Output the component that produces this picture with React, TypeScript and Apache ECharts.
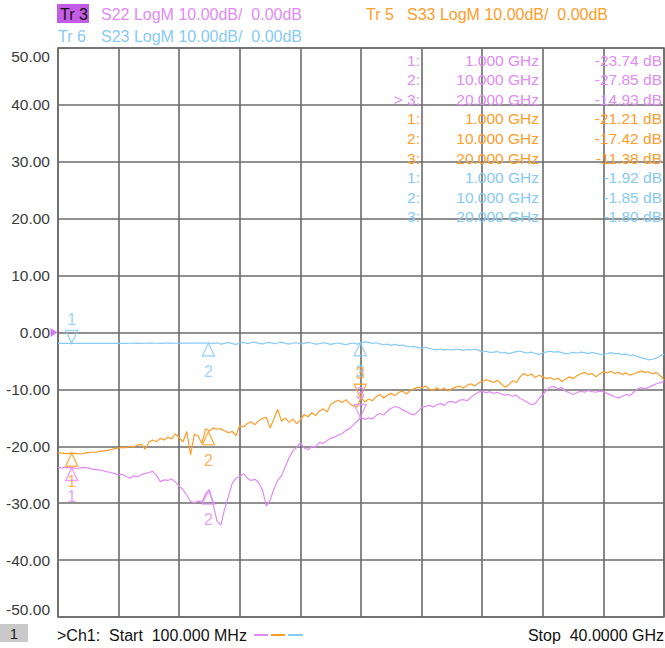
import React, { useEffect, useRef } from "react";
import * as echarts from "echarts";

// Sweep definition (linear, 161 points)
const START_GHZ = 0.1;
const STOP_GHZ = 40;

// Trace values (dB)
const s22 = [
  -23.7, -23.8, -23.7, -23.75, -23.8, -23.9, -23.8, -23.7, -23.8, -24.0,
  -24.1, -24.2, -24.3, -24.5, -24.6, -24.8, -25.0, -24.9, -25.3, -25.6,
  -25.2, -25.4, -25.0, -24.8, -24.6, -24.4, -25.1, -26.2, -25.9, -26.0,
  -25.7, -26.3, -27.0, -27.6, -28.6, -29.7, -29.9, -29.6, -29.8, -28.3,
  -27.6, -30.3, -33.2, -33.8, -31.0, -28.8, -26.5, -25.6, -25.3, -24.8,
  -25.6, -26.0, -25.8, -26.4, -27.7, -30.5, -29.5, -27.5, -26.0, -25.2,
  -23.6, -22.0, -20.8, -20.2, -19.4, -20.3, -20.6, -20.0, -20.1, -19.3,
  -19.5, -19.0, -18.6, -18.4, -18.0, -17.8, -17.2, -16.9, -16.2, -15.6,
  -14.9, -15.3, -15.0, -15.2, -14.6, -14.2, -14.5, -13.8, -13.3, -13.0,
  -13.2, -13.6, -13.9, -14.3, -14.5, -13.9, -13.2, -13.0, -12.8, -13.1,
  -12.7, -12.5, -12.8, -12.2, -12.1, -12.4, -11.9, -11.8, -12.0, -11.4,
  -10.9, -10.5, -10.3, -10.6, -10.4, -10.7, -10.5, -10.8, -11.0, -10.9,
  -11.2, -11.0, -11.6, -11.9, -12.3, -12.7, -12.5, -11.6, -10.9, -10.2,
  -9.6, -9.5, -9.9, -9.7, -10.3, -10.6, -10.9, -10.6, -10.3, -10.5,
  -10.2, -10.4, -10.5, -10.3, -10.4, -10.7, -11.0, -11.3, -11.5, -11.2,
  -10.9, -11.1, -10.5, -9.9, -9.7, -9.9, -9.6, -9.3, -9.0, -8.8,
  -8.6,
];

const s33 = [
  -21.1, -21.2, -21.3, -21.25, -21.2, -21.3, -21.35, -21.2, -21.1, -21.0,
  -21.05, -20.9, -20.8, -20.7, -20.6, -20.4, -20.3, -20.2, -20.25, -20.0,
  -20.1, -19.8, -19.6, -20.5, -19.3, -18.9, -19.2, -18.6, -18.9, -18.4,
  -18.7, -17.8, -18.5, -19.2, -17.4, -21.5, -17.9, -18.2, -19.5, -16.9,
  -17.3, -16.8, -17.0, -16.9, -17.3, -17.6, -17.4, -18.1, -16.3, -16.6,
  -16.0, -15.7, -16.2, -15.5, -15.1, -14.9, -16.8, -15.2, -13.5, -15.6,
  -15.0, -15.8, -15.2, -16.0, -15.4, -14.4, -14.8, -14.1, -14.6, -13.8,
  -13.4, -14.0, -12.7, -12.2, -11.9, -12.3, -11.8, -12.5, -12.9, -13.1,
  -11.4, -12.2, -11.7, -12.0, -11.3, -10.9, -11.5, -11.0, -10.7, -11.1,
  -10.5, -10.3, -10.8, -10.2, -9.9, -9.6, -9.8, -9.4, -9.9, -10.2,
  -9.7, -10.1, -9.8, -10.3, -9.9, -9.6, -9.4, -9.8, -9.3, -9.0,
  -9.4, -8.9, -8.6, -8.3, -8.5, -8.8, -8.4, -9.0, -9.6, -9.2,
  -8.5, -8.8, -7.8, -7.2, -7.6, -7.3, -7.9, -7.5, -7.8, -8.1,
  -7.9, -8.3, -8.0, -8.6, -8.2, -7.8, -8.1, -7.6, -7.3, -7.0,
  -7.4, -7.2, -7.8, -7.3, -6.9, -7.1, -6.8, -7.2, -7.0, -7.4,
  -7.1, -7.5, -7.3, -7.0, -6.8, -7.0, -6.9, -7.3, -7.0, -7.6,
  -8.3,
];

const s23 = [
  -1.90, -1.91, -1.92, -1.92, -1.92, -1.91, -1.90, -1.91, -1.92, -1.91,
  -1.90, -1.89, -1.91, -1.92, -1.90, -1.89, -1.90, -1.91, -1.90, -1.89,
  -1.88, -1.90, -1.91, -1.89, -1.88, -1.87, -1.89, -1.90, -1.88, -1.86,
  -1.87, -1.89, -1.88, -1.86, -1.87, -1.88, -1.86, -1.85, -1.87, -1.86,
  -1.85, -1.95, -1.80, -2.05, -1.90, -1.75, -1.95, -2.10, -1.85, -1.75,
  -1.95, -1.80, -1.70, -1.90, -2.00, -1.80, -1.75, -1.95, -1.85, -1.70,
  -1.90, -2.05, -1.85, -1.80, -2.00, -1.90, -1.75, -1.85, -2.05, -1.95,
  -1.80, -1.90, -2.10, -1.95, -1.85, -2.00, -2.15, -1.95, -1.85, -2.05,
  -1.80, -1.65, -1.75, -1.90, -1.80, -2.00, -2.15, -2.05, -2.25, -2.10,
  -2.30, -2.20, -2.40, -2.55, -2.45, -2.65, -2.75, -2.60, -2.80, -2.95,
  -3.05, -2.90, -3.10, -2.95, -3.05, -2.90, -3.00, -3.15, -2.95, -3.05,
  -2.90, -3.10, -3.40, -3.30, -3.50, -3.45, -3.35, -3.60, -3.50, -3.70,
  -3.55, -3.35, -3.25, -3.50, -3.60, -3.45, -3.70, -3.85, -3.60, -3.40,
  -3.30, -3.45, -3.35, -3.55, -3.75, -3.65, -3.50, -3.60, -3.45, -3.55,
  -3.70, -3.50, -3.65, -3.80, -3.95, -3.70, -3.55, -3.75, -3.65, -3.90,
  -3.80, -4.05, -3.95, -4.20, -4.45, -4.60, -4.80, -4.70, -4.50, -4.10,
  -3.85,
];

// Markers
const markerFreqs = [1, 10, 20];
const s22Markers = [-23.74, -27.85, -14.93];
const s33Markers = [-21.21, -17.42, -11.38];
const s23Markers = [-1.92, -1.85, -1.8];

// Axis
const Y_MIN = -50;
const Y_MAX = 50;
const Y_STEP = 10;
const X_DIVISIONS = 10;

const PURPLE = "#e18af6";
const PURPLE_BOX = "#c35ce6";
const ORANGE = "#ff9d2a";
const BLUE = "#86caf5";
const GRID = "#6b6b6b";
const FONT = '"Liberation Sans", Arial, sans-serif';

const UP = "path://M6 0L12 13L0 13Z";
const DOWN = "path://M0 0L12 0L6 13Z";

export default function App() {
  const ref = useRef<HTMLDivElement>(null);

  useEffect(() => {
    if (!ref.current) return;
    const chart = echarts.init(ref.current, null, { renderer: "svg" });

    const n = s22.length;
    const step = (STOP_GHZ - START_GHZ) / (n - 1);
    const freqs = s22.map((_, i) => START_GHZ + i * step);
    const toPts = (vals: number[]) => vals.map((v, i) => [freqs[i], v]);

    const markerSeries = (
      vals: number[],
      dirs: string[],
      color: string,
      name: string
    ) => ({
      type: "scatter",
      name,
      xAxisIndex: 0,
      yAxisIndex: 0,
      clip: false,
      z: 5,
      symbolSize: [12, 13],
      itemStyle: { color: "rgba(0,0,0,0)", borderColor: color, borderWidth: 1.4 },
      emphasis: { disabled: true },
      data: vals.map((v, i) => {
        const down = dirs[i] === "down";
        return {
          value: [markerFreqs[i], v],
          symbol: down ? DOWN : UP,
          symbolOffset: [0, down ? -6.5 : 6.5],
          label: {
            show: true,
            formatter: String(i + 1),
            position: down ? "top" : "bottom",
            distance: down ? 2 : 7,
            color,
            fontSize: 16,
            fontFamily: FONT,
          },
        };
      }),
    });

    // Marker table text
    const tableGroups = [
      { vals: s22Markers, color: PURPLE, active: 2 },
      { vals: s33Markers, color: ORANGE, active: -1 },
      { vals: s23Markers, color: BLUE, active: -1 },
    ];
    const tableTexts: any[] = [];
    let row = 0;
    tableGroups.forEach((g) => {
      g.vals.forEach((v, i) => {
        const y = 60 + row * 19.6;
        const common = {
          fill: g.color,
          font: `15.5px ${FONT}`,
          textAlign: "right",
          textVerticalAlign: "middle",
        };
        tableTexts.push(
          { type: "text", z: 1, style: { ...common, x: 420, y, text: (i === g.active ? "> " : "") + (i + 1) + ":" } },
          { type: "text", z: 1, style: { ...common, x: 539, y, text: markerFreqs[i].toFixed(3) + " GHz" } },
          { type: "text", z: 1, style: { ...common, x: 662, y, text: v.toFixed(2) + " dB" } }
        );
        row++;
      });
    });

    const hdr = (text: string, x: number, y: number, fill: string) => ({
      type: "text",
      style: { text, x, y, fill, font: `16px ${FONT}`, textVerticalAlign: "middle" },
    });

    const option: any = {
      animation: false,
      backgroundColor: "#ffffff",
      grid: {
        left: 58,
        top: 48,
        width: 606,
        height: 569,
        show: true,
        borderColor: GRID,
        borderWidth: 1.6,
        backgroundColor: "#ffffff",
      },
      xAxis: [
        {
          type: "value",
          min: START_GHZ,
          max: STOP_GHZ,
          show: false,
          splitLine: { show: false },
        },
        {
          type: "value",
          min: 0,
          max: X_DIVISIONS,
          interval: 1,
          axisLine: { show: false },
          axisTick: { show: false },
          axisLabel: { show: false },
          splitLine: { show: true, lineStyle: { color: GRID, width: 1.6 } },
        },
      ],
      yAxis: {
        type: "value",
        min: Y_MIN,
        max: Y_MAX,
        interval: Y_STEP,
        axisLine: { show: false },
        axisTick: { show: false },
        splitLine: { show: true, lineStyle: { color: GRID, width: 1.6 } },
        axisLabel: {
          formatter: (v: number) => v.toFixed(2),
          color: "#3a3a3a",
          fontSize: 15.5,
          fontFamily: FONT,
          margin: 8,
          verticalAlignMaxLabel: "top",
          verticalAlignMinLabel: "bottom",
        },
      },
      series: [
        {
          type: "line",
          name: "S23",
          xAxisIndex: 0,
          showSymbol: false,
          data: toPts(s23),
          lineStyle: { color: BLUE, width: 1.2 },
          itemStyle: { color: BLUE },
          z: 3,
        },
        {
          type: "line",
          name: "S33",
          xAxisIndex: 0,
          showSymbol: false,
          data: toPts(s33),
          lineStyle: { color: ORANGE, width: 1.2 },
          itemStyle: { color: ORANGE },
          z: 3,
        },
        {
          type: "line",
          name: "S22",
          xAxisIndex: 0,
          showSymbol: false,
          data: toPts(s22),
          lineStyle: { color: PURPLE, width: 1.2 },
          itemStyle: { color: PURPLE },
          z: 4,
        },
        markerSeries(s23Markers, ["down", "up", "up"], BLUE, "S23 markers"),
        markerSeries(s33Markers, ["up", "up", "down"], ORANGE, "S33 markers"),
        markerSeries(s22Markers, ["up", "up", "down"], PURPLE, "S22 markers"),
        {
          type: "scatter",
          name: "ref",
          xAxisIndex: 0,
          clip: false,
          symbol: "path://M0 0L8 4L0 8Z",
          symbolSize: [7, 9],
          symbolOffset: [-4, 0],
          itemStyle: { color: PURPLE_BOX },
          data: [[START_GHZ, 0]],
          z: 6,
        },
      ],
      graphic: [
        { type: "rect", shape: { x: 57, y: 4, width: 32, height: 19 }, style: { fill: PURPLE_BOX } },
        hdr("Tr 3", 60, 14, "#111111"),
        hdr("S22 LogM 10.00dB/  0.00dB", 101, 14, PURPLE),
        hdr("Tr 5", 366, 14, ORANGE),
        hdr("S33 LogM 10.00dB/  0.00dB", 407, 14, ORANGE),
        hdr("Tr 6", 58, 36, BLUE),
        hdr("S23 LogM 10.00dB/  0.00dB", 101, 36, BLUE),
        ...tableTexts,
        { type: "rect", shape: { x: 0, y: 624, width: 28, height: 18 }, style: { fill: "#c9c9c9" } },
        {
          type: "text",
          style: { text: "1", x: 14, y: 633, fill: "#222", font: `15px ${FONT}`, textAlign: "center", textVerticalAlign: "middle" },
        },
        hdr(">Ch1:  Start  100.000 MHz", 57, 635, "#111111"),
        { type: "line", shape: { x1: 254, y1: 635, x2: 268, y2: 635 }, style: { stroke: PURPLE, lineWidth: 2 } },
        { type: "line", shape: { x1: 271, y1: 635, x2: 285, y2: 635 }, style: { stroke: ORANGE, lineWidth: 2 } },
        { type: "line", shape: { x1: 288, y1: 635, x2: 303, y2: 635 }, style: { stroke: BLUE, lineWidth: 2 } },
        {
          type: "text",
          style: {
            text: "Stop  40.0000 GHz",
            x: 664,
            y: 635,
            fill: "#111111",
            font: `16px ${FONT}`,
            textAlign: "right",
            textVerticalAlign: "middle",
          },
        },
      ],
    };

    chart.setOption(option);
    return () => chart.dispose();
  }, []);

  return (
    <div
      ref={ref}
      style={{ position: "fixed", left: 0, top: 0, width: 665, height: 648, background: "#fff" }}
    />
  );
}
